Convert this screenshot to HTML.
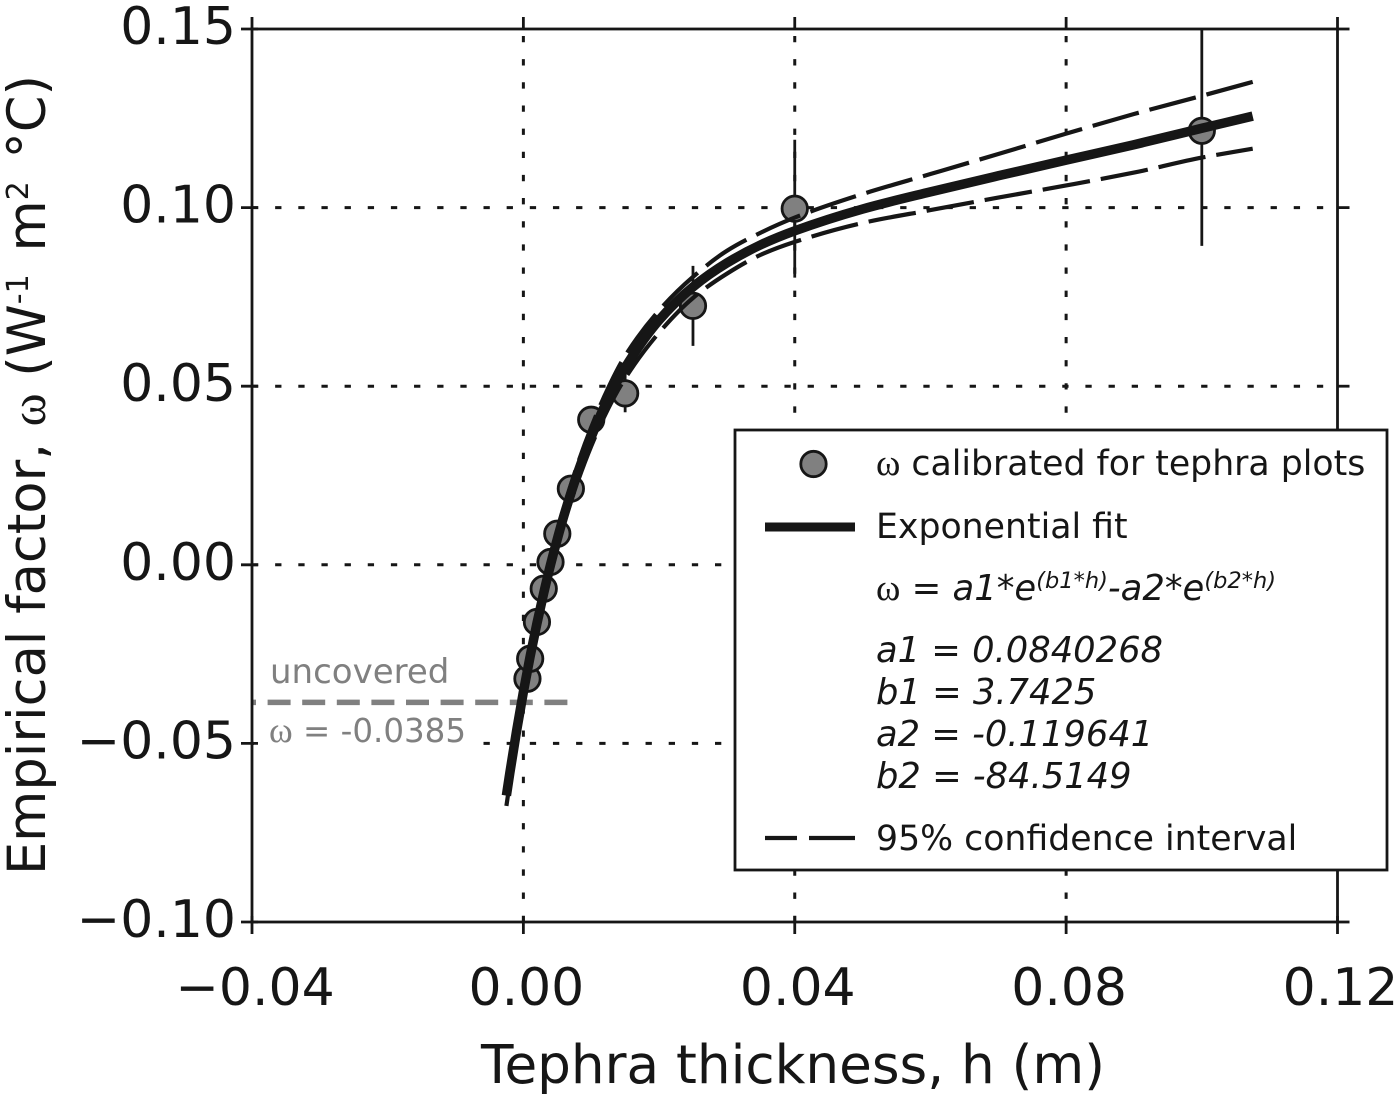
<!DOCTYPE html>
<html>
<head>
<meta charset="utf-8">
<title>Empirical factor vs tephra thickness</title>
<style>
html,body{margin:0;padding:0;background:#fff;}
svg{display:block;}
text{font-family:"DejaVu Sans","Liberation Sans",sans-serif;fill:#161616;}
text.gray{fill:#808080;}
.om{font-family:"Liberation Serif","DejaVu Serif",serif;}
.it{font-style:italic;}
</style>
</head>
<body>
<svg id="chart" xmlns="http://www.w3.org/2000/svg" width="1400" height="1099" viewBox="0 0 1400 1099">
  <rect x="0" y="0" width="1400" height="1099" fill="#fff"/>
  <g id="grid"></g>
  <rect x="254" y="737" width="226" height="12" fill="#fff"/>
  <line id="refLine" stroke="#808080" stroke-width="5.5" stroke-dasharray="23 11.6" stroke-dashoffset="19"/>
  <g id="errors"></g>
  <g id="points"></g>
  <path id="upper" fill="none" stroke="#161616" stroke-width="4.2" stroke-dasharray="48 11"/>
  <path id="lower" fill="none" stroke="#161616" stroke-width="4.2" stroke-dasharray="48 11" stroke-dashoffset="11"/>
  <path id="fit" fill="none" stroke="#161616" stroke-width="9.5"/>
  <rect x="252" y="29" width="1085.5" height="893" fill="none" stroke="#161616" stroke-width="2.8"/>
  <g id="ticks"></g>

  <text class="gray" x="270" y="683" font-size="34">uncovered</text>
  <text class="gray" x="269" y="742" font-size="32.5"><tspan class="om" font-size="36">ω</tspan> = -0.0385</text>

  <text x="793" y="1083" font-size="53.2" text-anchor="middle">Tephra thickness, h (m)</text>
  <text transform="translate(45,475) rotate(-90)" font-size="52.6" text-anchor="middle">Empirical factor, <tspan class="om" font-size="50">ω</tspan> (W<tspan font-size="30" dy="-17">-1</tspan><tspan dx="6" dy="17"> m</tspan><tspan font-size="30" dy="-17">2</tspan><tspan dx="6" dy="17"> °C)</tspan></text>

  <g>
    <rect x="735" y="430" width="652" height="440" fill="#fff" stroke="#161616" stroke-width="2.8"/>
    <circle cx="813.5" cy="464" r="12.7" fill="#808080" stroke="#161616" stroke-width="2.8"/>
    <text x="876" y="475" font-size="34.7"><tspan class="om" font-size="37">ω</tspan> calibrated for tephra plots</text>
    <line x1="765" y1="527" x2="855" y2="527" stroke="#161616" stroke-width="9"/>
    <text x="876" y="538" font-size="34.7">Exponential fit</text>
    <text x="876" y="600" font-size="35.4"><tspan class="om" font-size="37">ω</tspan> = <tspan class="it">a1*e</tspan><tspan class="it" font-size="22.5" dy="-12">(b1*h)</tspan><tspan class="it" dy="12">-a2*e</tspan><tspan class="it" font-size="22.5" dy="-12">(b2*h)</tspan></text>
    <text class="it" x="876" y="662" font-size="35.3">a1 = 0.0840268</text>
    <text class="it" x="876" y="704" font-size="35.3">b1 = 3.7425</text>
    <text class="it" x="876" y="746" font-size="35.3">a2 = -0.119641</text>
    <text class="it" x="876" y="788" font-size="35.3">b2 = -84.5149</text>
    <line x1="765" y1="838" x2="855" y2="838" stroke="#161616" stroke-width="4.2" stroke-dasharray="32 12 47"/>
    <text x="876" y="850" font-size="34.7">95% confidence interval</text>
  </g>
</svg>
<script>
var xTickValues = [-0.04, 0, 0.04, 0.08, 0.12];
var xTickLabels = ["\u22120.04", "0.00", "0.04", "0.08", "0.12"];
var yTickValues = [-0.10, -0.05, 0, 0.05, 0.10, 0.15];
var yTickLabels = ["\u22120.10", "\u22120.05", "0.00", "0.05", "0.10", "0.15"];
var gridX = [0, 0.04, 0.08];
var gridY = [-0.05, 0, 0.05, 0.10];
var uncoveredValue = -0.0385;
var uncoveredExtent = [-0.04, 0.0068];

var pointH = [0.0006, 0.001, 0.002, 0.003, 0.004, 0.005, 0.007, 0.010, 0.015, 0.025, 0.040, 0.100];
var pointW = [-0.0319, -0.0263, -0.0160, -0.0067, 0.0008, 0.0087, 0.0213, 0.0406, 0.0480, 0.0725, 0.0997, 0.1215];
var pointErr = [0.002, 0.002, 0.002, 0.002, 0.002, 0.002, 0.002, 0.003, 0.0053, 0.0112, 0.0193, 0.0322];

var curveH = [-0.0025, -0.002, -0.001, 0, 0.001, 0.002, 0.003, 0.004, 0.005, 0.006, 0.008, 0.010, 0.0125, 0.015, 0.020, 0.025, 0.030, 0.035, 0.040, 0.050, 0.060, 0.070, 0.080, 0.090, 0.100, 0.1075];
var fitW = [-0.0646, -0.0583, -0.0465, -0.0356, -0.0256, -0.0164, -0.0079, 0, 0.0072, 0.0139, 0.0257, 0.0358, 0.0465, 0.0552, 0.0685, 0.0778, 0.0845, 0.0896, 0.0935, 0.0996, 0.1044, 0.1089, 0.1133, 0.1176, 0.1222, 0.1256];
var upperW = [-0.0618, -0.0558, -0.0445, -0.0338, -0.0238, -0.0146, -0.0060, 0.0020, 0.0092, 0.0160, 0.0282, 0.0385, 0.0495, 0.0585, 0.0712, 0.0806, 0.0879, 0.0930, 0.0972, 0.1038, 0.1094, 0.1150, 0.1207, 0.1262, 0.1313, 0.1352];
var lowerW = [-0.0675, -0.0610, -0.0488, -0.0376, -0.0275, -0.0182, -0.0097, -0.0020, 0.0052, 0.0118, 0.0232, 0.0332, 0.0437, 0.0522, 0.0650, 0.0747, 0.0815, 0.0868, 0.0904, 0.0957, 0.0993, 0.1028, 0.1062, 0.1098, 0.1140, 0.1165];

var NS = "http://www.w3.org/2000/svg";
var plotLeft = 252, plotRight = 1337.5, plotTop = 29, plotBottom = 922;
function sx(h) { return plotLeft + (h + 0.04) / 0.16 * (plotRight - plotLeft); }
function sy(w) { return plotBottom - (w + 0.10) / 0.25 * (plotBottom - plotTop); }
function clampY(py) { return Math.max(plotTop, Math.min(plotBottom, py)); }
function mk(tag, attrs, parent) {
  var el = document.createElementNS(NS, tag);
  for (var k in attrs) { el.setAttribute(k, attrs[k]); }
  parent.appendChild(el);
  return el;
}
var gridG = document.getElementById("grid");
var ticksG = document.getElementById("ticks");
var errG = document.getElementById("errors");
var ptsG = document.getElementById("points");
var dash = "6.3 16.85";
var INK = "#161616";

gridX.forEach(function (v) {
  var l = mk("line", { x1: sx(v), x2: sx(v), y1: plotBottom, y2: plotTop, stroke: INK, "stroke-width": 3, "stroke-dasharray": dash }, gridG);
  
  
});
gridY.forEach(function (v) {
  var l = mk("line", { x1: plotLeft, x2: plotRight, y1: sy(v), y2: sy(v), stroke: INK, "stroke-width": 3, "stroke-dasharray": dash }, gridG);
  
  
});

xTickValues.forEach(function (v, i) {
  var t = mk("line", { x1: sx(v), x2: sx(v), y1: plotBottom - 6, y2: plotBottom + 12, stroke: INK, "stroke-width": 2.8 }, ticksG);
  
  
  var t2 = mk("line", { x1: sx(v), x2: sx(v), y1: plotTop - 12, y2: plotTop, stroke: INK, "stroke-width": 2.8 }, ticksG);
  
  
  var lab = mk("text", { x: sx(v) + 3, y: 1005, "font-size": 52, "text-anchor": "middle" }, ticksG);
  
  
  lab.textContent = xTickLabels[i];
});
yTickValues.forEach(function (v, i) {
  var t = mk("line", { x1: plotLeft - 11, x2: plotLeft + 6, y1: sy(v), y2: sy(v), stroke: INK, "stroke-width": 2.8 }, ticksG);
  
  
  var t2 = mk("line", { x1: plotRight, x2: plotRight + 12, y1: sy(v), y2: sy(v), stroke: INK, "stroke-width": 2.8 }, ticksG);
  
  
  var lab = mk("text", { x: 236, y: sy(v) + 15, "font-size": 52, "text-anchor": "end" }, ticksG);
  
  
  lab.textContent = yTickLabels[i];
});

var ref = document.getElementById("refLine");
ref.setAttribute("x1", sx(uncoveredExtent[0]));
ref.setAttribute("x2", sx(uncoveredExtent[1]));
ref.setAttribute("y1", sy(uncoveredValue));
ref.setAttribute("y2", sy(uncoveredValue));

pointH.forEach(function (h, i) {
  var e = mk("line", { x1: sx(h), x2: sx(h), y1: clampY(sy(pointW[i] + pointErr[i])), y2: clampY(sy(pointW[i] - pointErr[i])), stroke: INK, "stroke-width": 2.8 }, errG);
  
  
});
pointH.forEach(function (h, i) {
  var c = mk("circle", { cx: sx(h), cy: sy(pointW[i]), r: 12.7, fill: "#808080", stroke: INK, "stroke-width": 2.8 }, ptsG);
  
  
});

// Smooth path through the read values (monotone cubic); reversed = draw from the right end.
function pathOf(ws, reversed) {
  var xs = curveH.map(sx), ys = ws.map(sy), n = xs.length, d = [], m = [], i;
  for (i = 0; i < n - 1; i++) { d.push((ys[i + 1] - ys[i]) / (xs[i + 1] - xs[i])); }
  m[0] = d[0]; m[n - 1] = d[n - 2];
  for (i = 1; i < n - 1; i++) {
    var h0 = xs[i] - xs[i - 1], h1 = xs[i + 1] - xs[i];
    var w1 = 2 * h1 + h0, w2 = h1 + 2 * h0;
    m[i] = (d[i - 1] * d[i] <= 0) ? 0 : (w1 + w2) / (w1 / d[i - 1] + w2 / d[i]);
  }
  var f = function (v) { return v.toFixed(2); }, out;
  if (!reversed) {
    out = "M" + f(xs[0]) + " " + f(ys[0]);
    for (i = 0; i < n - 1; i++) {
      var s = (xs[i + 1] - xs[i]) / 3;
      out += " C" + f(xs[i] + s) + " " + f(ys[i] + m[i] * s) + " " + f(xs[i + 1] - s) + " " + f(ys[i + 1] - m[i + 1] * s) + " " + f(xs[i + 1]) + " " + f(ys[i + 1]);
    }
  } else {
    out = "M" + f(xs[n - 1]) + " " + f(ys[n - 1]);
    for (i = n - 2; i >= 0; i--) {
      var r = (xs[i + 1] - xs[i]) / 3;
      out += " C" + f(xs[i + 1] - r) + " " + f(ys[i + 1] - m[i + 1] * r) + " " + f(xs[i] + r) + " " + f(ys[i] + m[i] * r) + " " + f(xs[i]) + " " + f(ys[i]);
    }
  }
  return out;
}
document.getElementById("fit").setAttribute("d", pathOf(fitW, false));
document.getElementById("upper").setAttribute("d", pathOf(upperW, true));
document.getElementById("lower").setAttribute("d", pathOf(lowerW, true));
</script>
</body>
</html>
